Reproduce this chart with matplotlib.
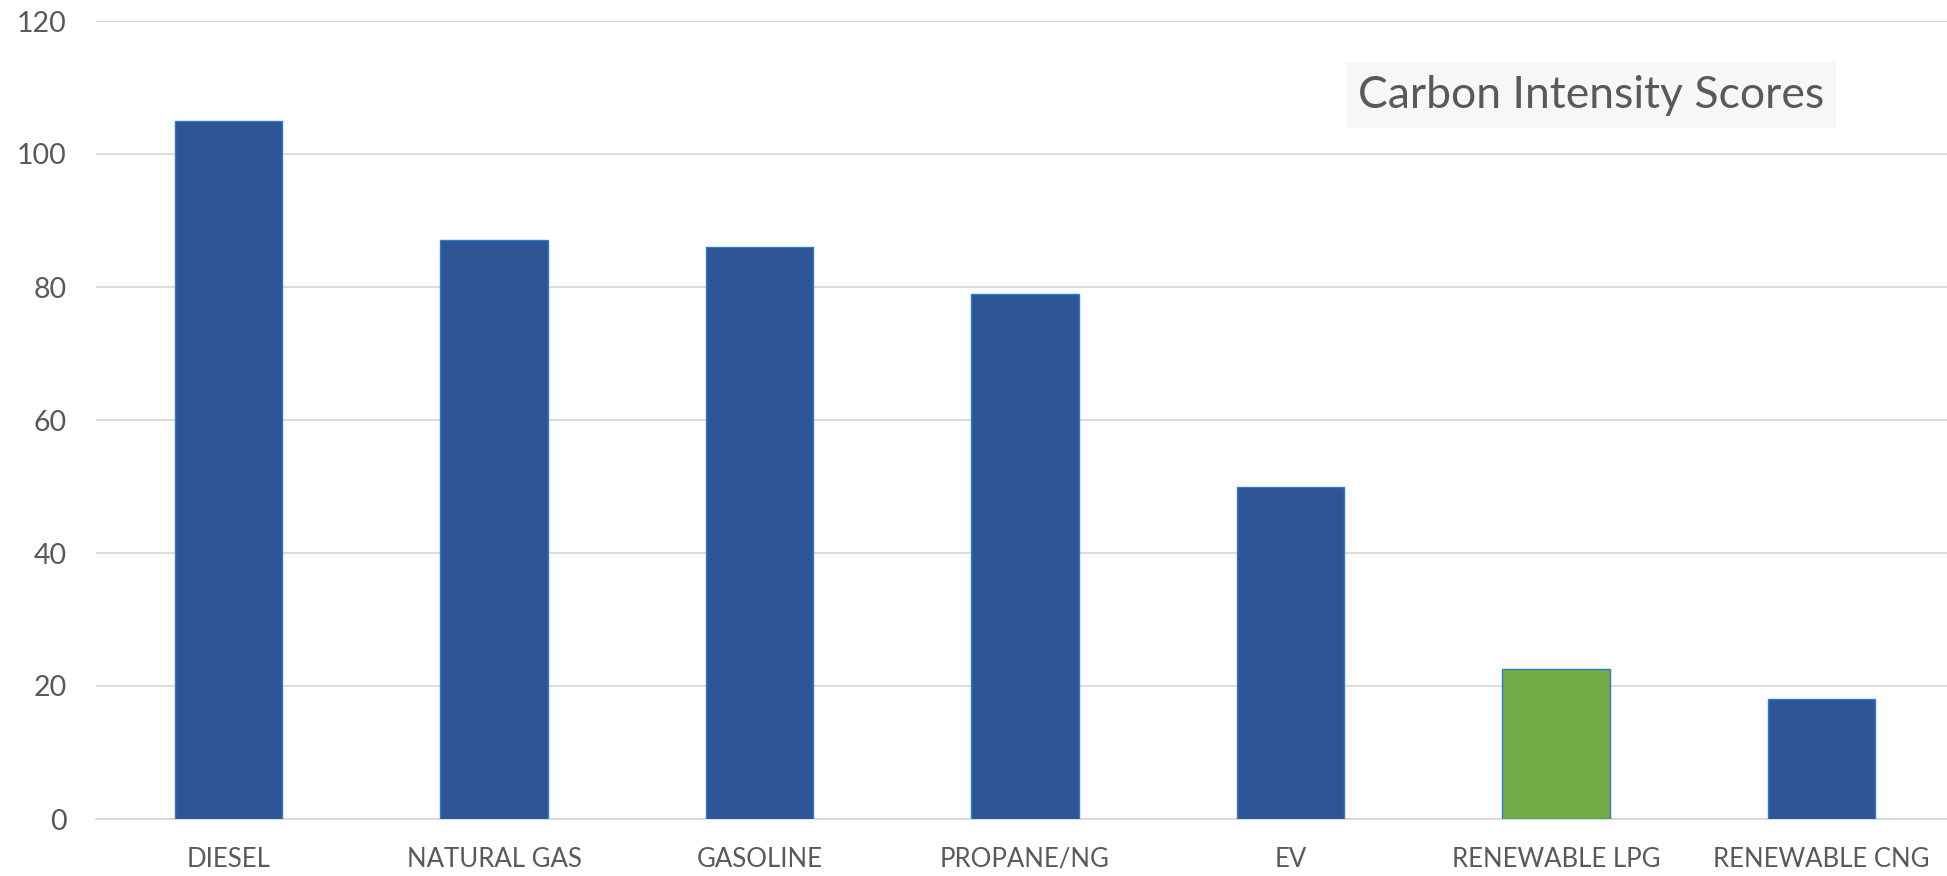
import matplotlib
matplotlib.use("Agg")
import matplotlib.pyplot as plt

categories = ["DIESEL", "NATURAL GAS", "GASOLINE", "PROPANE/NG", "EV",
              "RENEWABLE LPG", "RENEWABLE CNG"]
scores = [105, 87, 86, 79, 50, 22.6, 18]
bar_colors = ["#2F5597", "#2F5597", "#2F5597", "#2F5597", "#2F5597",
              "#70AD47", "#2F5597"]
yticks = [0, 20, 40, 60, 80, 100, 120]
title = "Carbon Intensity Scores"

W, H, DPI = 1947, 876, 100
fig = plt.figure(figsize=(W / DPI, H / DPI), dpi=DPI)
fig.patch.set_facecolor("white")

left_px, right_px = 96, 1954
bottom_px, top_px = 819, 21
ax = fig.add_axes([left_px / W, (H - bottom_px) / H,
                   (right_px - left_px) / W, (bottom_px - top_px) / H])

text_color = "#595959"
grid_color = "#D9D9D9"
font = "Lato"

x = range(len(categories))
ax.bar(x, scores, width=0.405, color=bar_colors, edgecolor="#2E7BCF",
       linewidth=1.0, zorder=3)

ax.set_xlim(-0.5, len(categories) - 0.5)
ax.set_ylim(0, 120)
ax.set_yticks(yticks)
ax.set_yticklabels([str(t) for t in yticks], fontsize=20.5, color=text_color,
                   family=font)
ax.set_xticks(list(x))
ax.set_xticklabels(categories, fontsize=18.5, color=text_color, family=font)
ax.tick_params(axis="both", length=0)
ax.tick_params(axis="y", pad=21)
ax.tick_params(axis="x", pad=20)

ax.grid(axis="y", color=grid_color, linewidth=1.3, zorder=0)
for side in ["top", "right", "left"]:
    ax.spines[side].set_visible(False)
ax.spines["bottom"].set_color(grid_color)
ax.spines["bottom"].set_linewidth(1.3)
ax.spines["bottom"].set_zorder(1)

# Title in a light grey box inside the plot area
fig.patches.append(plt.Rectangle((1347 / W, (H - 128) / H), (1836 - 1347) / W,
                                 (128 - 62) / H, transform=fig.transFigure,
                                 facecolor="#F7F7F7", edgecolor="none",
                                 zorder=5))
fig.text((1347 + 1836) / 2 / W, (H - 95) / H, title, ha="center",
         va="center", fontsize=32, color=text_color, family=font, zorder=6)

fig.savefig("out.png", dpi=DPI)
